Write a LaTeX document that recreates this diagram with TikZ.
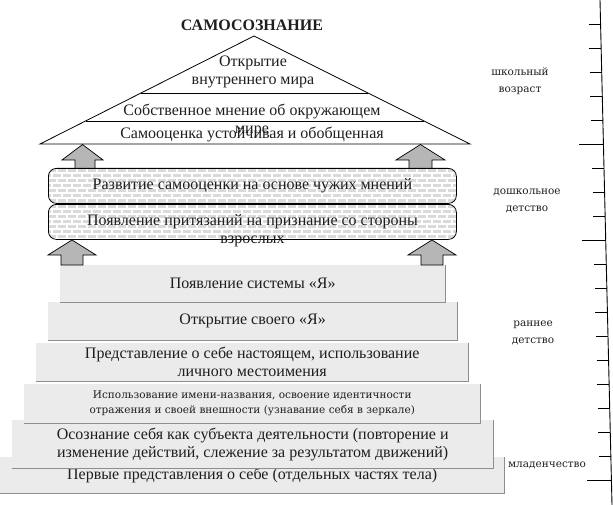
\documentclass[tikz,border=0pt]{standalone}
\usepackage{fontspec}
\setmainfont{Liberation Serif}
\newfontfamily\agefont{DejaVu Serif}
\usetikzlibrary{calc}
\definecolor{stepfill}{HTML}{EBEBEB}
\definecolor{stepedge}{HTML}{8E8E8E}
\definecolor{brick}{HTML}{DADADA}
\definecolor{arrowfill}{HTML}{B6B6B6}
\definecolor{ink}{HTML}{1E1E1E}
\tikzset{
  title/.style={font=\bfseries\fontsize{16}{18}\selectfont,text=ink},
  roof/.style={draw=black,line width=0.8pt},
  rooftext/.style={font=\fontsize{16}{18}\selectfont,text=ink,align=center,inner sep=0pt},
  stepbox/.style={fill=stepfill,anchor=north west,inner sep=0pt,font=\fontsize{16}{18}\selectfont,text=ink,align=center},
  stepline/.style={draw=stepedge,line width=1pt},
  brickbox/.style={draw=black,line width=0.8pt,rounded corners=8pt,fill=white,anchor=north west,inner sep=0pt,
    minimum width=408pt,minimum height=35pt,font=\fontsize{16}{18}\selectfont,text=ink,align=center,
    path picture={\foreach \row [evaluate=\row as \ph using {mod(\row,2)*5}] in {0,...,7}
      \draw[brick,line width=3.2pt,dash pattern=on 8pt off 2pt,dash phase=\ph pt]
        ([yshift=-(2.5+5*\row)*1pt]path picture bounding box.north west) -- ([yshift=-(2.5+5*\row)*1pt]path picture bounding box.north east);}},
  bigarrow/.style={draw=black,fill=arrowfill,line width=0.7pt,line join=miter},
  scaleline/.style={draw=black,line width=0.9pt},
  agelabel/.style={font=\agefont\fontsize{10.5}{17}\selectfont,text=ink,align=center}
}
\begin{document}
\begin{tikzpicture}[x=1pt,y=-1pt]
\path[use as bounding box] (0,0) rectangle (613,505);
% steps, lowest first
\node[stepbox,minimum width=504pt,minimum height=36pt] (s6) at (0,457) {Первые представления о себе (отдельных частях тела)};
\draw[stepline] (s6.north east) -- (s6.south east) -- (s6.south west);
\node[stepbox,minimum width=481pt,minimum height=48pt] (s5) at (12,420) {Осознание себя как субъекта деятельности (повторение и\\изменение действий, слежение за результатом движений)};
\draw[stepline] (s5.north east) -- (s5.south east) -- (s5.south west);
\node[stepbox,minimum width=456pt,minimum height=39pt,font=\agefont\fontsize{10.5}{15}\selectfont] (s4) at (24,384) {Использование имени-названия, освоение идентичности\\отражения и своей внешности (узнавание себя в зеркале)};
\draw[stepline] (s4.north east) -- (s4.south east) -- (s4.south west);
\node[stepbox,minimum width=432pt,minimum height=38pt] (s3) at (36,343) {Представление о себе настоящем, использование\\личного местоимения};
\draw[stepline] (s3.north east) -- (s3.south east) -- (s3.south west);
\node[stepbox,minimum width=409pt,minimum height=38pt] (s2) at (48,302) {Открытие своего «Я»};
\draw[stepline] (s2.north east) -- (s2.south east) -- (s2.south west);
\node[stepbox,minimum width=385pt,minimum height=37pt] (s1) at (60,265) {Появление системы «Я»};
\draw[stepline] (s1.north east) -- (s1.south east) -- (s1.south west);
% block arrows
\draw[bigarrow] (82.5,144.5) -- (103,160) -- (95,160) -- (95,172) -- (75,172) -- (75,160) -- (62,160) -- cycle;
\draw[bigarrow] (420.5,144.5) -- (445,160) -- (432,160) -- (432,172) -- (409,172) -- (409,160) -- (396,160) -- cycle;
\draw[bigarrow] (72,240) -- (96,255) -- (83,255) -- (83,265) -- (61,265) -- (61,255) -- (48,255) -- cycle;
\draw[bigarrow] (432,240) -- (456,255) -- (443,255) -- (443,265) -- (421,265) -- (421,255) -- (408,255) -- cycle;
% brick boxes
\node[brickbox] (b1) at (48,168) {Развитие самооценки на основе чужих мнений};
\node[brickbox] (b2) at (48,204) {};
\node[rooftext] (b2text) at (252.5,231) {Появление притязаний на признание со стороны\\взрослых};
% roof
\coordinate (apex) at (254,36);
\coordinate (bl) at (40,144);
\coordinate (br) at (470,144);
\draw[roof] (bl) -- (apex) -- (br) -- cycle;
\draw[roof] ($(apex)!0.528!(bl)$) -- ($(apex)!0.528!(br)$);
\draw[roof] ($(apex)!0.787!(bl)$) -- ($(apex)!0.787!(br)$);
\node[title] (head) at (252,25) {САМОСОЗНАНИЕ};
\node[rooftext] (r1) at (253,72) {Открытие\\внутреннего мира};
\node[rooftext] (r2) at (252,120) {Собственное мнение об окружающем\\мире};
\node[rooftext] (r3) at (252,135) {Самооценка устойчивая и обобщенная};
% age scale
\draw[scaleline] (600,0) -- (612,505);
\foreach \k in {1,...,20}
  \draw[scaleline] ({600+12*24*\k/505-12},{24*\k}) -- ++(12,0);
\foreach \k in {6,10,20}
  \draw[scaleline] ({600+12*24*\k/505-24},{24*\k}) -- ++(12,0);
\node[agelabel] (school) at (520,81) {школьный\\возраст};
\node[agelabel] (preschool) at (527,201) {дошкольное\\детство};
\node[agelabel] (early) at (533,333) {раннее\\детство};
\node[agelabel] (infancy) at (547,465) {младенчество};
\end{tikzpicture}
\end{document}
